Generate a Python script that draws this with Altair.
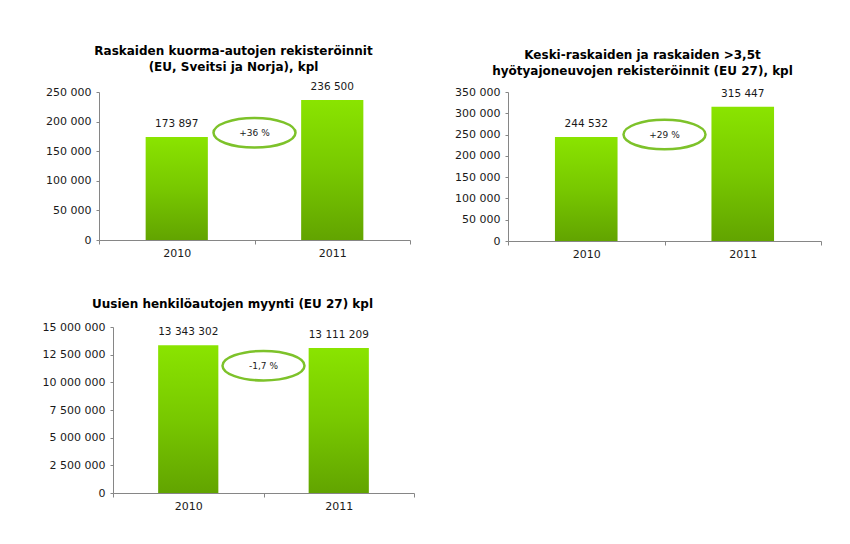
import altair as alt
import pandas as pd

# ---- data ----
years = ["2010", "2011"]
trucks = [173897, 236500]
heavy = [244532, 315447]
cars = [13343302, 13111209]
changes = ["+36 %", "+29 %", "-1,7 %"]
titles = [
    ["Raskaiden kuorma-autojen rekisteröinnit", "(EU, Sveitsi ja Norja), kpl"],
    ["Keski-raskaiden ja raskaiden >3,5t", "hyötyajoneuvojen rekisteröinnit (EU 27), kpl"],
    "Uusien henkilöautojen myynti (EU 27) kpl",
]
y_max = [250000, 350000, 15000000]
y_step = [50000, 50000, 2500000]
badge_level = [181000, 250000, 11500000]  # annotation placement (data units)

FONT = "DejaVu Sans"
SPACE_FMT = "join(split(format(datum.value, ','), ','), ' ')"
ELLIPSE = ("M-1,0C-1,-0.1988,-0.5523,-0.36,0,-0.36C0.5523,-0.36,1,-0.1988,1,0"
           "C1,0.1988,0.5523,0.36,0,0.36C-0.5523,0.36,-1,0.1988,-1,0Z")

GRAD = alt.Gradient(
    gradient="linear",
    stops=[alt.GradientStop(color="#8ae400", offset=0),
           alt.GradientStop(color="#78c800", offset=0.5),
           alt.GradientStop(color="#62a400", offset=1)],
    x1=0, x2=0, y1=0, y2=1,
)


def panel(values, title, ymax, step, level, change, width, height, extent, dx, toff):
    rows = [{"year": yv, "value": v, "kind": "bar", "label": ""} for yv, v in zip(years, values)]
    rows.append({"year": years[0], "value": level, "kind": "badge", "label": change})
    df = pd.DataFrame(rows)
    ticks = list(range(0, ymax + 1, step))
    x = alt.X("year:N",
              scale=alt.Scale(paddingInner=0, paddingOuter=0),
              axis=alt.Axis(title=None, labelAngle=0, tickBand="extent",
                            tickSize=4, labelPadding=3))
    y = alt.Y("value:Q",
              scale=alt.Scale(domain=[0, ymax], nice=False, zero=True),
              axis=alt.Axis(title=None, values=ticks, tickCount=len(ticks),
                            labelExpr=SPACE_FMT, tickSize=3, labelPadding=5,
                            labelOverlap=False,
                            minExtent=extent, maxExtent=extent))
    base = alt.Chart(df)
    bar_data = base.transform_filter("datum.kind == 'bar'")
    badge_data = base.transform_filter("datum.kind == 'badge'")
    bars = bar_data.mark_bar(width=alt.RelativeBandSize(0.4), color=GRAD)
    labels = bar_data.transform_calculate(lbl=SPACE_FMT).mark_text(
        baseline="middle", dy=-13, font=FONT, fontSize=10.5, color="#1a1a1a"
    ).encode(text="lbl:N")
    ell = badge_data.mark_point(shape=ELLIPSE, size=6724, fill="white", stroke="#7dc22a",
                                strokeWidth=2.5, opacity=1, fillOpacity=1, filled=False).encode(
        x=alt.X("year:N", bandPosition=1))
    etext = badge_data.mark_text(font=FONT, fontSize=9, color="#1a1a1a", baseline="middle").encode(
        x=alt.X("year:N", bandPosition=1), text="label:N")
    return alt.layer(bars, labels, ell, etext).encode(x=x, y=y).properties(
        width=width, height=height,
        title=alt.TitleParams(title, frame="group", anchor="middle", dx=dx, offset=toff),
    )


def spacer(w):
    # invisible empty cell used only to offset the panels horizontally
    return alt.Chart(pd.DataFrame({"v": [0]})).mark_rule(opacity=0, strokeWidth=0).encode(
        x=alt.value(0), x2=alt.value(0.5), y=alt.value(0)
    ).properties(width=w, height=1)


p1 = panel(trucks, titles[0], y_max[0], y_step[0], badge_level[0], changes[0], 311, 148, 72, -21, 8)
p2 = panel(heavy, titles[1], y_max[1], y_step[1], badge_level[1], changes[1], 313, 149, 87, -22, 8)
p3 = panel(cars, titles[2], y_max[2], y_step[2], badge_level[2], changes[2], 301, 166, 72, -31, 10)

chart = alt.vconcat(
    alt.hconcat(spacer(14), p1, spacer(10), p2, spacing=0),
    alt.hconcat(spacer(28), p3, spacing=0),
    spacing=39,
).properties(
    padding={"left": 5, "top": 36, "right": 5, "bottom": 5},
    background="white",
).configure_view(stroke=None).configure_axis(
    labelFont=FONT, labelFontSize=11, labelColor="#1a1a1a",
    domainColor="#868686", tickColor="#868686", grid=False,
).configure_title(
    font=FONT, fontSize=12, fontWeight="bold", color="#000000", lineHeight=16,
)

chart.save("out.html", embed_options={"renderer": "svg", "actions": False})
